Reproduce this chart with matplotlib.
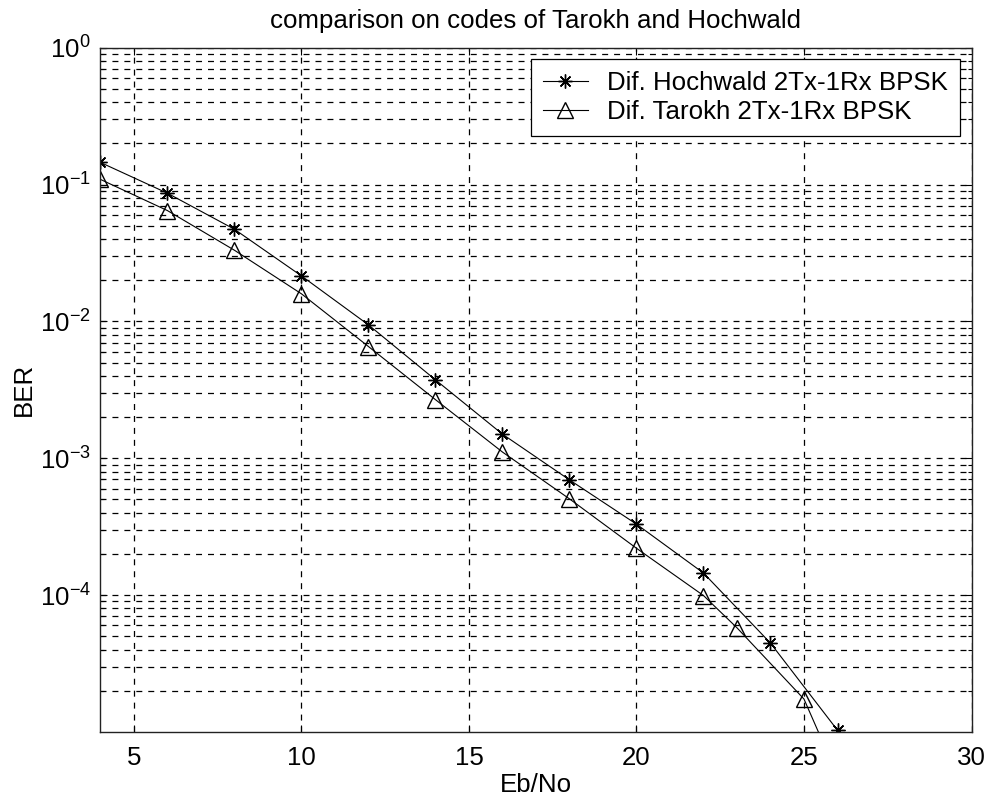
import numpy as np
import matplotlib
matplotlib.use("Agg")
import matplotlib.pyplot as plt
from matplotlib.ticker import LogLocator, FixedLocator, NullFormatter

# Eb/No sweep and measured BER for the two differential schemes
ebno_hochwald = [4, 6, 8, 10, 12, 14, 16, 18, 20, 22, 24, 26]
ber_hochwald = [0.145, 0.0864, 0.0471, 0.0215, 0.00943, 0.00374, 0.00150,
                6.95e-4, 3.30e-4, 1.45e-4, 4.46e-5, 1.03e-5]

ebno_tarokh = [4, 6, 8, 10, 12, 14, 16, 18, 20, 22, 23, 25, 26]
ber_tarokh = [0.109, 0.0645, 0.0331, 0.0159, 0.00655, 0.00268, 0.00111,
              5.05e-4, 2.2e-4, 9.93e-5, 5.77e-5, 1.74e-5, 4.8e-6]

labels = ["Dif. Hochwald 2Tx-1Rx BPSK", "Dif. Tarokh 2Tx-1Rx BPSK"]

plt.rcParams["font.family"] = ["Liberation Sans", "DejaVu Sans"]
plt.rcParams["mathtext.fontset"] = "custom"
plt.rcParams["mathtext.rm"] = "Liberation Sans"
plt.rcParams["mathtext.it"] = "Liberation Sans:italic"
plt.rcParams["mathtext.default"] = "regular"
plt.rcParams["lines.scale_dashes"] = False

fs = 18.6

fig = plt.figure(figsize=(9.86, 8.0), dpi=100)
ax = fig.add_axes([0.1019, 0.085, 0.8834, 0.8554])

ax.semilogy(ebno_hochwald, ber_hochwald, color="black", lw=0.8,
            marker=(8, 2, 0), ms=10, mew=1.0, label=labels[0])
ax.semilogy(ebno_tarokh, ber_tarokh, color="black", lw=0.8,
            marker="^", ms=11, mfc="none", mew=1.0, label=labels[1])

ax.set_xlim(4, 30)
ax.set_ylim(1e-5, 1)
ax.xaxis.set_major_locator(FixedLocator([5, 10, 15, 20, 25, 30]))
ax.yaxis.set_major_locator(FixedLocator([1e-4, 1e-3, 1e-2, 1e-1, 1e0]))
ax.yaxis.set_major_formatter(
    matplotlib.ticker.FuncFormatter(lambda v, p: r"$10^{%d}$" % round(np.log10(v))))
ax.yaxis.set_minor_locator(LogLocator(base=10, subs=np.arange(2, 10), numticks=20))
ax.yaxis.set_minor_formatter(NullFormatter())

# dashed grid on major x and all y decades/subdecades
grid_kw = dict(color="black", lw=0.9, linestyle=(0, (4.3, 4.3)))
ax.grid(True, which="major", axis="both", **grid_kw)
ax.grid(True, which="minor", axis="y", **grid_kw)
ax.set_axisbelow(True)

ax.tick_params(which="both", direction="in", top=True, right=True,
               labelsize=fs, width=0.8, color="black")
ax.tick_params(which="major", length=5)
ax.tick_params(which="minor", length=3)
ax.tick_params(axis="x", pad=10)
ax.tick_params(axis="y", pad=7)
for s in ax.spines.values():
    s.set_linewidth(1.0)
    s.set_color("#222222")

ax.set_title("comparison on codes of Tarokh and Hochwald", fontsize=fs, pad=14)
ax.set_xlabel("Eb/No", fontsize=fs, labelpad=2)
ax.set_ylabel("BER", fontsize=fs, labelpad=3)

leg = ax.legend(loc="upper right", fontsize=fs, fancybox=False, framealpha=1,
                edgecolor="black", borderaxespad=0.45, handlelength=1.75,
                handletextpad=0.75, labelspacing=0.2, borderpad=0.45)
leg.get_frame().set_linewidth(0.9)

fig.savefig("out.png", dpi=100, facecolor="white")
